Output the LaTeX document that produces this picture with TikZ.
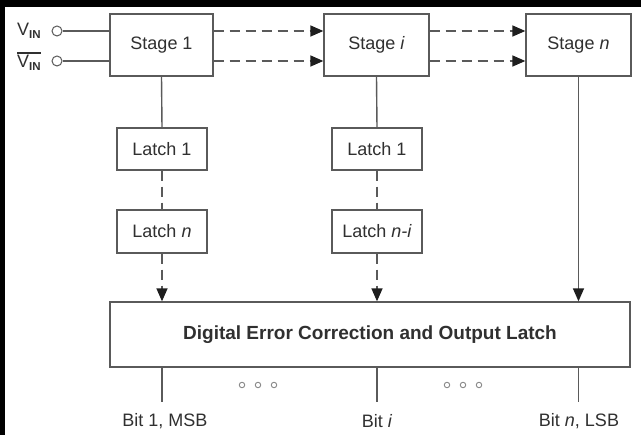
\documentclass[tikz,border=0pt]{standalone}
\usepackage{fontspec}
\setmainfont{Liberation Sans}
\usetikzlibrary{arrows.meta}
\definecolor{ln}{HTML}{5A5A5A}
\definecolor{tx}{HTML}{303030}
\definecolor{tip}{HTML}{1E1E1E}
\definecolor{dotc}{HTML}{8A8A8A}
\begin{document}
\begin{tikzpicture}[x=1pt,y=-1pt,
  box/.style={draw=ln, line width=1.3pt, fill=white, inner sep=0pt, text=tx,
    font=\fontsize{18}{21}\selectfont},
  wire/.style={draw=ln, line width=1.4pt},
  dwire/.style={wire, dash pattern=on 10pt off 6pt},
  arr/.style={-{Triangle[length=13pt,width=11pt,color=tip]}},
  lbl/.style={text=tx, font=\fontsize{18}{21}\selectfont, inner sep=0pt},
  pin/.style={circle, draw=ln, line width=1pt, fill=white, minimum size=10pt, inner sep=0pt},
  dotmark/.style={circle, draw=dotc, line width=0.9pt, minimum size=5.5pt, inner sep=0pt}]
\useasboundingbox (0,0) rectangle (641,435);
\fill[white] (0,0) rectangle (641,435);
\fill[black] (0,0) rectangle (641,7);
\fill[black] (0,0) rectangle (5,435);

% stages
\node[box, minimum width=103pt, minimum height=62pt] (s1) at (161.5,45) {Stage 1};
\node[box, minimum width=105pt, minimum height=62pt] (si) at (376.5,45) {Stage \textit{i}};
\node[box, minimum width=105pt, minimum height=62pt] (sn) at (578.5,45) {Stage \textit{n}};

% latches
\node[box, minimum width=90pt, minimum height=42pt] (la1) at (162,149) {Latch 1};
\node[box, minimum width=90pt, minimum height=43pt] (lan) at (162,231.5) {Latch \textit{n}};
\node[box, minimum width=90pt, minimum height=42pt] (lb1) at (377,149) {Latch 1};
\node[box, minimum width=90pt, minimum height=43pt] (lbn) at (377,231.5) {Latch \textit{n-i}};

% digital error correction
\node[box, minimum width=520pt, minimum height=65pt, font=\fontsize{19}{22}\selectfont\bfseries] (dec) at (370,334.5) {Digital Error Correction and Output Latch};

% inputs
\node[pin] (p1) at (57,31) {};
\node[pin] (p2) at (57,61) {};
\node[lbl, anchor=west, font=\fontsize{18}{20}\selectfont] (vin1) at (17,31)
  {V\raisebox{-3pt}{\fontsize{11.5}{10}\selectfont\bfseries IN}};
\node[lbl, anchor=west, font=\fontsize{18}{20}\selectfont] (vin2) at (17,63)
  {V\raisebox{-3pt}{\fontsize{11.5}{10}\selectfont\bfseries IN}};
\draw[tx, line width=1.5pt] ([yshift=2pt]vin2.north west) -- ([yshift=2pt]vin2.north east);

\draw[wire] (p1.east) -- (s1.west |- p1);
\draw[wire] (p2.east) -- (s1.west |- p2);

% dashed forward connections
\draw[dwire, arr] (s1.east |- p1) -- (si.west |- p1);
\draw[dwire, arr] (s1.east |- p2) -- (si.west |- p2);
\draw[dwire, arr] (si.east |- p1) -- (sn.west |- p1);
\draw[dwire, arr] (si.east |- p2) -- (sn.west |- p2);

% verticals
\draw[wire] (s1.south) -- (la1.north);
\draw[dwire] (la1.south) -- (lan.north);
\draw[dwire, arr] (lan.south) -- (lan.south |- dec.north);
\draw[wire] (si.south) -- (lb1.north);
\draw[dwire] (lb1.south) -- (lbn.north);
\draw[dwire, arr] (lbn.south) -- (lbn.south |- dec.north);
\draw[wire, arr] (sn.south) -- (sn.south |- dec.north);

% outputs
\coordinate (o1) at (162,402);
\coordinate (oi) at (377,402);
\coordinate (on) at (578.5,402);
\draw[wire] (dec.south -| o1) -- (o1);
\draw[wire] (dec.south -| oi) -- (oi);
\draw[wire] (dec.south -| on) -- (on);
\node[lbl] (b1) at (165,421) {Bit 1, MSB};
\node[lbl] (bi) at (377,421) {Bit \textit{i}};
\node[lbl] (bn) at (579,421) {Bit \textit{n}, LSB};

% ellipsis dots
\node[dotmark] (d1) at (242,385) {};
\node[dotmark] (d2) at (258,385) {};
\node[dotmark] (d3) at (274,385) {};
\node[dotmark] (d4) at (447,385) {};
\node[dotmark] (d5) at (463,385) {};
\node[dotmark] (d6) at (479,385) {};
\end{tikzpicture}
\end{document}
